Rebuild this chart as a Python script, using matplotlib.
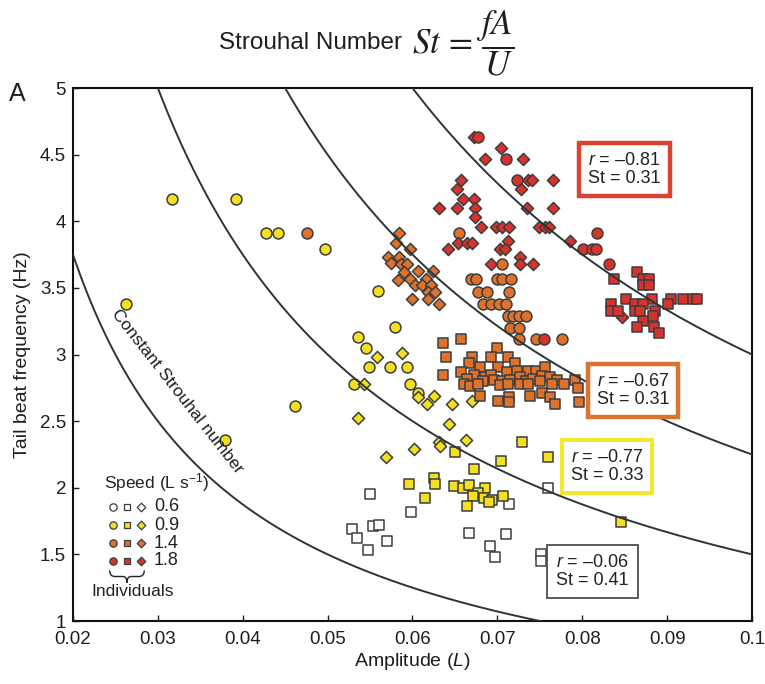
import numpy as np
import matplotlib
matplotlib.use("Agg")
import matplotlib.pyplot as plt
from matplotlib.path import Path
from matplotlib.patches import PathPatch

plt.rcParams['font.family'] = ['Liberation Sans', 'DejaVu Sans']
plt.rcParams['mathtext.fontset'] = 'custom'
plt.rcParams['mathtext.rm'] = 'Liberation Sans'
plt.rcParams['mathtext.it'] = 'Liberation Sans:italic'

# ---------------- data (Amplitude in L, tail beat frequency in Hz) -------------
# speed 0.6 L/s (white) - squares
s06_sq_A = [0.0550, 0.0598, 0.0714, 0.0760, 0.0529, 0.0553, 0.0560, 0.0535, 0.0570,
            0.0547, 0.0667, 0.0710, 0.0691, 0.0697, 0.0751, 0.0751]
s06_sq_f = [1.95, 1.82, 1.88, 2.00, 1.69, 1.71, 1.72, 1.62, 1.60,
            1.53, 1.66, 1.65, 1.56, 1.48, 1.50, 1.45]

# speed 0.9 L/s (yellow)
s09_ci_A = [0.0317, 0.0392, 0.0427, 0.0441, 0.0497, 0.0262, 0.0462, 0.0379, 0.0559,
            0.0579, 0.0536, 0.0545, 0.0549, 0.0574, 0.0594, 0.0531, 0.0597, 0.0607]
s09_ci_f = [4.17, 4.17, 3.91, 3.91, 3.79, 3.38, 2.61, 2.36, 3.48,
            3.21, 3.13, 3.05, 2.91, 2.91, 2.91, 2.78, 2.78, 2.71]
s09_di_A = [0.0558, 0.0588, 0.0543, 0.0607, 0.0617, 0.0625, 0.0646, 0.0670, 0.0536,
            0.0643, 0.0663, 0.0631, 0.0633, 0.0602, 0.0569]
s09_di_f = [2.98, 3.01, 2.78, 2.68, 2.63, 2.69, 2.63, 2.65, 2.52,
            2.48, 2.36, 2.34, 2.31, 2.29, 2.23]
s09_sq_A = [0.0729, 0.0760, 0.0650, 0.0704, 0.0673, 0.0596, 0.0625, 0.0627, 0.0649,
            0.0659, 0.0667, 0.0685, 0.0677, 0.0671, 0.0684, 0.0694, 0.0690, 0.0707,
            0.0615, 0.0664, 0.0846]
s09_sq_f = [2.34, 2.23, 2.27, 2.20, 2.14, 2.03, 2.07, 2.03, 2.01,
            2.00, 2.02, 2.00, 1.96, 1.94, 1.92, 1.91, 1.89, 1.94,
            1.92, 1.86, 1.74]

# speed 1.4 L/s (orange)
s14_ci_A = [0.0476, 0.0655, 0.0705, 0.0669, 0.0675, 0.0699, 0.0705, 0.0716, 0.0677,
            0.0688, 0.0714, 0.0683, 0.0692, 0.0702, 0.0710, 0.0712, 0.0719, 0.0726,
            0.0734, 0.0715, 0.0726, 0.0725, 0.0745, 0.0776]
s14_ci_f = [3.91, 3.91, 3.68, 3.57, 3.57, 3.57, 3.57, 3.57, 3.47,
            3.47, 3.47, 3.38, 3.38, 3.38, 3.38, 3.29, 3.29, 3.29,
            3.29, 3.20, 3.20, 3.12, 3.12, 3.12]
s14_di_A = [0.0584, 0.0580, 0.0597, 0.0571, 0.0584, 0.0575, 0.0586, 0.0594, 0.0607,
            0.0624, 0.0590, 0.0597, 0.0583, 0.0616, 0.0603, 0.0611, 0.0622, 0.0618,
            0.0626, 0.0599, 0.0618, 0.0631]
s14_di_f = [3.91, 3.84, 3.79, 3.73, 3.73, 3.69, 3.68, 3.68, 3.63,
            3.63, 3.62, 3.57, 3.56, 3.57, 3.52, 3.52, 3.52, 3.47,
            3.47, 3.42, 3.42, 3.38]
s14_sq_A = [0.0636, 0.0657, 0.0640, 0.0699, 0.0670, 0.0692, 0.0713, 0.0667, 0.0679,
            0.0701, 0.0721, 0.0657, 0.0673, 0.0685, 0.0693, 0.0711, 0.0723, 0.0736,
            0.0746, 0.0756, 0.0636, 0.0664, 0.0683, 0.0696, 0.0705, 0.0715, 0.0727,
            0.0734, 0.0742, 0.0752, 0.0762, 0.0770, 0.0661, 0.0668, 0.0677, 0.0703,
            0.0713, 0.0727, 0.0736, 0.0750, 0.0764, 0.0778, 0.0791, 0.0795, 0.0679,
            0.0701, 0.0714, 0.0714, 0.0738, 0.0752, 0.0762, 0.0768, 0.0796]
s14_sq_f = [3.09, 3.12, 2.98, 3.05, 2.98, 2.98, 2.98, 2.94, 2.91,
            2.91, 2.94, 2.87, 2.85, 2.83, 2.85, 2.87, 2.88, 2.88,
            2.88, 2.91, 2.85, 2.82, 2.80, 2.81, 2.80, 2.81, 2.83,
            2.80, 2.82, 2.84, 2.83, 2.81, 2.78, 2.76, 2.78, 2.77,
            2.78, 2.78, 2.78, 2.80, 2.78, 2.78, 2.81, 2.75, 2.69,
            2.65, 2.68, 2.64, 2.69, 2.71, 2.68, 2.63, 2.64]

# speed 1.8 L/s (red)
s18_ci_A = [0.0677, 0.0710, 0.0723, 0.0817, 0.0801, 0.0812, 0.0816, 0.0832, 0.0755]
s18_ci_f = [4.63, 4.47, 4.31, 3.91, 3.79, 3.79, 3.79, 3.68, 3.12]
s18_di_A = [0.0672, 0.0704, 0.0686, 0.0730, 0.0657, 0.0736, 0.0741, 0.0766, 0.0653,
            0.0728, 0.0660, 0.0672, 0.0631, 0.0653, 0.0674, 0.0735, 0.0766, 0.0674,
            0.0681, 0.0698, 0.0706, 0.0714, 0.0749, 0.0756, 0.0761, 0.0654, 0.0664,
            0.0670, 0.0712, 0.0642, 0.0703, 0.0709, 0.0727, 0.0785, 0.0692, 0.0727,
            0.0742, 0.0847]
s18_di_f = [4.63, 4.55, 4.47, 4.47, 4.31, 4.31, 4.31, 4.31, 4.24,
            4.24, 4.17, 4.17, 4.10, 4.10, 4.10, 4.10, 4.10, 4.03,
            3.96, 3.96, 3.96, 3.96, 3.96, 3.96, 3.96, 3.84, 3.84,
            3.84, 3.85, 3.79, 3.79, 3.79, 3.73, 3.85, 3.68, 3.68,
            3.68, 3.28]
s18_sq_A = [0.0838, 0.0865, 0.0872, 0.0879, 0.0872, 0.0879, 0.0851, 0.0882, 0.0904,
            0.0919, 0.0930, 0.0935, 0.0834, 0.0862, 0.0872, 0.0901, 0.0834, 0.0842,
            0.0862, 0.0868, 0.0886, 0.0883, 0.0872, 0.0865, 0.0884, 0.0890]
s18_sq_f = [3.57, 3.62, 3.57, 3.57, 3.52, 3.52, 3.42, 3.42, 3.42,
            3.42, 3.42, 3.42, 3.38, 3.38, 3.38, 3.38, 3.33, 3.33,
            3.33, 3.33, 3.33, 3.29, 3.25, 3.21, 3.21, 3.16]

# constant Strouhal curves f = c / A
curve_consts = [0.075, 0.15, 0.225, 0.3]

speed_labels = ['0.6', '0.9', '1.4', '1.8']
box_texts = [('$r$ = \u20130.81\nSt = 0.31', 0.0850, 4.39, '#d9432f', 3.2),
             ('$r$ = \u20130.67\nSt = 0.31', 0.0860, 2.73, '#dc7430', 3.2),
             ('$r$ = \u20130.77\nSt = 0.33', 0.0829, 2.16, '#f3e82a', 2.8),
             ('$r$ = \u20130.06\nSt = 0.41', 0.0812, 1.37, '#4a4f52', 1.3)]

xticks = [0.02, 0.03, 0.04, 0.05, 0.06, 0.07, 0.08, 0.09, 0.1]
xticklabels = ['0.02', '0.03', '0.04', '0.05', '0.06', '0.07', '0.08', '0.09', '0.1']
yticks = [1, 1.5, 2, 2.5, 3, 3.5, 4, 4.5, 5]
yticklabels = ['1', '1.5', '2', '2.5', '3', '3.5', '4', '4.5', '5']

# ---------------- styles ----------------
col = {'0.6': '#ffffff', '0.9': '#f4e01e', '1.4': '#e0712b', '1.8': '#d7322b'}
edge = '#3b3d3e'
S_CI, S_SQ, S_DI = 62, 50, 38

fig = plt.figure(figsize=(7.65, 6.84), dpi=100)
ax = fig.add_axes([0.0954, 0.0921, 0.8876, 0.7792])
ax.set_xlim(0.02, 0.1)
ax.set_ylim(1, 5)

def sc(A, f, c, m, s):
    ax.scatter(A, f, s=s, marker=m, facecolor=c, edgecolor=edge, linewidth=1.1, zorder=2)

sc(s06_sq_A, s06_sq_f, col['0.6'], 's', S_SQ)
sc(s09_ci_A, s09_ci_f, col['0.9'], 'o', S_CI)
sc(s09_di_A, s09_di_f, col['0.9'], 'D', S_DI)
sc(s09_sq_A, s09_sq_f, col['0.9'], 's', S_SQ)
sc(s14_di_A, s14_di_f, col['1.4'], 'D', S_DI)
sc(s14_ci_A, s14_ci_f, col['1.4'], 'o', S_CI)
sc(s14_sq_A, s14_sq_f, col['1.4'], 's', S_SQ)
sc(s18_di_A, s18_di_f, col['1.8'], 'D', S_DI)
sc(s18_ci_A, s18_ci_f, col['1.8'], 'o', S_CI)
sc(s18_sq_A, s18_sq_f, col['1.8'], 's', S_SQ)

Ag = np.linspace(0.012, 0.1, 600)
for c in curve_consts:
    ax.plot(Ag, c / Ag, color='#2b3538', lw=1.4, zorder=3)

# curve label
ax.text(0.0323, 2.72, 'Constant Strouhal number', rotation=-52, rotation_mode='anchor',
        ha='center', va='center', fontsize=12.5, color='#1e1e1e', zorder=4)

# correlation boxes
for txt, x, y, ec, lw in box_texts:
    ax.text(x, y, txt, ha='center', va='center', fontsize=13, linespacing=1.1,
            color='#222222', zorder=5,
            bbox=dict(boxstyle='square,pad=0.5', facecolor='white', edgecolor=ec, linewidth=lw))

# legend (manual)
ax.text(0.045, 0.259, 'Speed (L s$^{-1}$)', transform=ax.transAxes, fontsize=12.5,
        ha='left', va='center', color='#222222')
row_y = [0.214, 0.180, 0.146, 0.113]
mx = [0.059, 0.0795, 0.100]
for yy, lab in zip(row_y, speed_labels):
    for xx, m, s in zip(mx, ['o', 's', 'D'], [28, 24, 19]):
        ax.scatter([xx], [yy], s=s, marker=m, facecolor=col[lab], edgecolor=edge,
                   linewidth=0.9, transform=ax.transAxes, zorder=5, clip_on=False)
    ax.text(0.119, yy, lab, transform=ax.transAxes, fontsize=13, ha='left', va='center',
            color='#222222')
# brace
x0, x1, yt, yb = 0.054, 0.105, 0.095, 0.072
xm = (x0 + x1) / 2
ym = (yt + yb) / 2
verts = [(x0, yt), (x0, ym), (x0 + 0.008, ym), (xm - 0.006, ym), (xm, ym), (xm, yb),
         (xm, ym), (xm + 0.006, ym), (x1 - 0.008, ym), (x1, ym), (x1, yt)]
codes = [Path.MOVETO, Path.CURVE3, Path.CURVE3, Path.LINETO, Path.CURVE3, Path.CURVE3,
         Path.CURVE3, Path.CURVE3, Path.LINETO, Path.CURVE3, Path.CURVE3]
ax.add_patch(PathPatch(Path(verts, codes), transform=ax.transAxes, fill=False,
                       edgecolor='#222222', lw=1.0, clip_on=False))
ax.text(0.088, 0.055, 'Individuals', transform=ax.transAxes, fontsize=12.5,
        ha='center', va='center', color='#222222')

# axes styling
ax.set_xticks(xticks)
ax.set_xticklabels(xticklabels)
ax.set_yticks(yticks)
ax.set_yticklabels(yticklabels)
ax.tick_params(direction='in', length=4, width=1, labelsize=13.5, colors='#1e1e1e', pad=5)
ax.tick_params(axis='x', pad=7)
for sp in ax.spines.values():
    sp.set_linewidth(1.5)
    sp.set_color('#111111')
ax.set_xlabel('Amplitude ($L$)', fontsize=14, labelpad=2, color='#1e1e1e')
ax.set_ylabel('Tail beat frequency (Hz)', fontsize=14, labelpad=6, color='#1e1e1e')

# title and panel label
fig.text(0.525, 0.937, 'Strouhal Number', ha='right', va='center', fontsize=17.5, color='#1e1e1e')
fig.text(0.538, 0.937, r'$St\,=\,\dfrac{fA}{U}$', ha='left', va='center', fontsize=25,
         color='#1e1e1e', math_fontfamily='stix')
fig.text(0.012, 0.862, 'A', ha='left', va='center', fontsize=18, color='#1e1e1e')

fig.savefig('out.png', dpi=100, facecolor='white')
